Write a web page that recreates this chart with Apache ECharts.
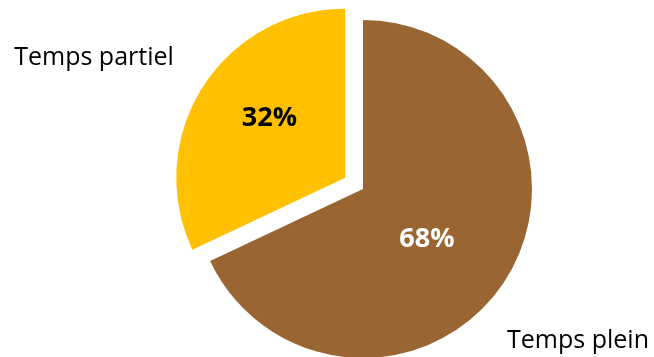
<!DOCTYPE html>
<html>
<head>
<meta charset="utf-8">
<script src="https://cdn.jsdelivr.net/npm/echarts@6/dist/echarts.min.js"></script>
<style>
    html, body { margin: 0; padding: 0; background: #fff; }
    #pieMap { width: 654px; height: 357px; }
</style>
</head>
<body>
<div id="pieMap"></div>
<script>
    // données du graphique
    var categories = ['Temps plein', 'Temps partiel'];
    var values = [68, 32];
    var colors = ['#996633', '#FFC000'];
    var pctColors = ['#ffffff', '#000000'];

    var chart = echarts.init(document.getElementById('pieMap'));

    var pieData = [];
    var nameData = [];
    for (var i = 0; i < categories.length; i++) {
        pieData.push({
            name: categories[i],
            value: values[i],
            selected: i === 1,
            itemStyle: { color: colors[i] },
            label: { color: pctColors[i] }
        });
        nameData.push({ name: categories[i], value: values[i] });
    }

    var option = {
        animation: false,
        series: [
            {
                type: 'pie',
                center: [363, 189],
                radius: 169,
                startAngle: 90,
                clockwise: true,
                selectedMode: 'single',
                selectedOffset: 21,
                emphasis: { disabled: true },
                label: {
                    show: true,
                    position: 'inside',
                    formatter: '{d}%',
                    fontFamily: 'Open Sans',
                    fontWeight: 'bold',
                    fontSize: 27
                },
                labelLine: { show: false },
                labelLayout: function (params) {
                    // petit décalage des pourcentages
                    if (params.dataIndex === 1) {
                        return { dx: -2, dy: -13 };
                    }
                    return { dx: -10, dy: 3 };
                },
                data: pieData
            },
            {
                type: 'pie',
                silent: true,
                center: [363, 189],
                radius: 169,
                startAngle: 90,
                itemStyle: { color: 'rgba(0,0,0,0)' },
                emphasis: { disabled: true },
                label: {
                    show: true,
                    position: 'outside',
                    alignTo: 'none',
                    overflow: 'none',
                    formatter: '{b}',
                    color: '#000',
                    fontFamily: 'Open Sans',
                    fontSize: 25
                },
                labelLine: { show: false },
                labelLayout: function (params) {
                    if (params.dataIndex === 1) {
                        return { x: 94, y: 58, align: 'center', verticalAlign: 'middle' };
                    }
                    return { x: 578, y: 341, align: 'center', verticalAlign: 'middle' };
                },
                data: nameData
            }
        ]
    };
    chart.setOption(option);
</script>
</body>
</html>
